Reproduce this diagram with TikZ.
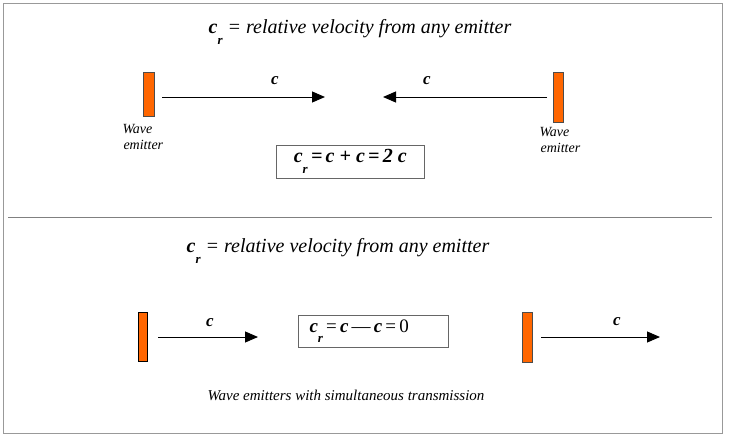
\documentclass[tikz,border=0pt]{standalone}
\usepackage{fontspec}
\setmainfont{Liberation Serif}
\usetikzlibrary{arrows.meta}
\definecolor{em}{HTML}{FF6600}
\newcommand{\crsub}{\textbf{\textit{c}}\raisebox{-1.2ex}{\fontsize{13}{13}\selectfont\bfseries\itshape r}}
\begin{document}
\begin{tikzpicture}[x=1pt,y=-1pt,
  emit/.style={draw=black!70,fill=em,line width=0.6pt},
  emitd/.style={draw=black,fill=em,line width=1.2pt},
  arr/.style={line width=1pt,-{Triangle[length=13pt,width=11pt]}},
  lab/.style={font=\bfseries\itshape\fontsize{17}{17}\selectfont},
  small/.style={font=\itshape\fontsize{14}{16}\selectfont,align=left},
  tbox/.style={draw=black!60,line width=0.6pt,minimum width=148pt,minimum height=33pt,anchor=north west,inner sep=0pt},
  ttl/.style={font=\itshape\fontsize{20}{20}\selectfont}]
\useasboundingbox (0,0) rectangle (729,439);
\draw[black!40] (3,3) rectangle (722,433);
\draw[black!50] (8,217) -- (712,217);
% top
\node[ttl] (t1) at (360,32) {\crsub\ = relative velocity from any emitter};
\node[emit,minimum width=11pt,minimum height=44pt,inner sep=0pt] (e1) at (148.5,94) {};
\node[emit,minimum width=10pt,minimum height=50pt,inner sep=0pt] (e2) at (558,97) {};
\coordinate (a1s) at (162,97); \coordinate (a1e) at (325,97);
\coordinate (a2s) at (547,97); \coordinate (a2e) at (383,97);
\draw[arr] (a1s) -- (a1e);
\draw[arr] (a2s) -- (a2e);
\node[lab] (c1) at (275,81) {c};
\node[lab] (c2) at (427,81) {c};
\node[small,anchor=north west] (w1) at (119,121) {Wave\\[0pt]\hspace*{1pt}emitter};
\node[small,anchor=north west] (w2) at (536,124) {Wave\\[0pt]\hspace*{1pt}emitter};
\node[tbox] (b1) at (276,145) {};
\node[font=\bfseries\itshape\fontsize{20}{20}\selectfont] at (b1.center) {c\raisebox{-1.2ex}{\fontsize{13}{13}\selectfont r}\,=\,c + c\,=\,2 c};
% bottom
\node[ttl] (t2) at (338,251) {\crsub\ = relative velocity from any emitter};
\node[emitd,minimum width=9pt,minimum height=49pt,inner sep=0pt] (e3) at (143,337) {};
\node[emit,minimum width=10pt,minimum height=50pt,inner sep=0pt] (e4) at (527,337) {};
\coordinate (a3s) at (158,337); \coordinate (a3e) at (258,337);
\coordinate (a4s) at (541,337); \coordinate (a4e) at (660,337);
\draw[arr] (a3s) -- (a3e);
\draw[arr] (a4s) -- (a4e);
\node[lab] (c3) at (210,323) {c};
\node[lab] (c4) at (617,322) {c};
\node[tbox,minimum width=150pt,minimum height=32pt] (b2) at (298,315) {};
\node[anchor=west,font=\fontsize{19}{19}\selectfont] at ([xshift=8pt]b2.west) {\crsub\,=\,\textbf{\textit{c}}\,—\,\textbf{\textit{c}}\,=\,0};
\node[font=\itshape\fontsize{15}{15}\selectfont] (cap) at (346,395) {Wave emitters with simultaneous transmission};
\end{tikzpicture}
\end{document}
